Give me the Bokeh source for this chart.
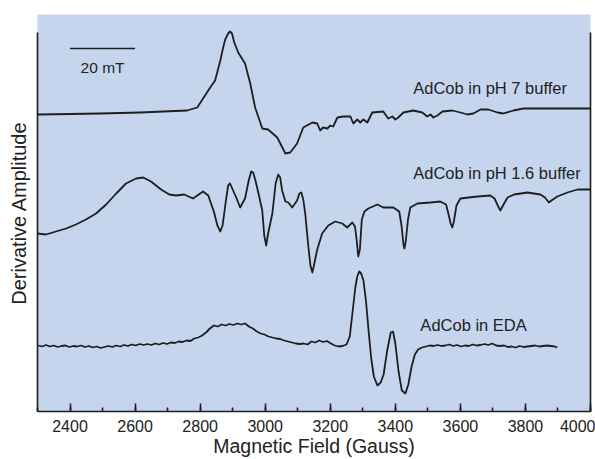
from bokeh.plotting import figure
from bokeh.models import LinearAxis, Range1d, SingleIntervalTicker, FixedTicker, Label
from bokeh.embed import file_html
from bokeh.resources import INLINE

# ---------------- data (field in Gauss, derivative amplitude in arbitrary units) ----------------
ph7_field = [2300, 2400, 2492, 2615, 2760, 2791, 2809, 2831, 2846, 2862, 2870, 2877, 2886, 2892,
             2898, 2905, 2917, 2938, 2954, 2969, 2991, 3009, 3037, 3062, 3077, 3098, 3117, 3145,
             3160, 3169, 3178, 3191, 3200, 3209, 3222, 3240, 3262, 3271, 3283, 3292, 3302, 3314,
             3329, 3363, 3378, 3391, 3400, 3409, 3425, 3455, 3483, 3498, 3508, 3517, 3529, 3545,
             3575, 3600, 3622, 3640, 3662, 3686, 3714, 3732, 3763, 3794, 3855, 3917, 4000]
ph7_amp = [-6, -5.5, -5, -4, -2, 1, 10, 21, 28, 48, 60, 69, 75, 77,
           75, 66, 56, 45, 25, 1, -20, -21, -29, -45, -44, -35, -19, -14,
           -15, -22, -19, -20, -17, -18, -9, -8, -8, -15, -11, -14, -11, -14,
           -4, -3, -10, -8, -11, -9, -4, -2, -4, -8, -6, -9, -7, -3,
           -2, -4, -6, -5, -1, -1, -4, -5, -2, 0, 0, 0, 0]

ph16_field = [2300, 2326, 2357, 2388, 2418, 2449, 2480, 2511, 2542, 2572, 2603, 2625, 2649, 2680,
              2705, 2726, 2751, 2778, 2809, 2825, 2843, 2853, 2862, 2869, 2878, 2886, 2892, 2900,
              2911, 2923, 2938, 2950, 2957, 2963, 2970, 2978, 2991, 2997, 3003, 3009, 3022, 3032,
              3040, 3046, 3052, 3062, 3071, 3083, 3098, 3105, 3111, 3117, 3123, 3132, 3139, 3145,
              3151, 3160, 3175, 3194, 3215, 3237, 3252, 3268, 3276, 3281, 3286, 3291, 3297, 3305,
              3317, 3345, 3363, 3394, 3412, 3419, 3425, 3428, 3432, 3439, 3446, 3468, 3508, 3538,
              3556, 3563, 3570, 3575, 3580, 3588, 3600, 3652, 3692, 3705, 3715, 3723, 3731, 3745,
              3765, 3806, 3846, 3860, 3872, 3880, 3898, 3929, 3960, 4000]
ph16_amp = [-44, -45, -42, -39, -35, -30, -24, -15, -4, 6, 11, 12, 8, 0,
            -5, -6, -5, -9, -2, -6, -23, -36, -42, -36, -14, 4, 6, 0,
            -8, -18, -9, 10, 18, 17, 9, -2, -21, -46, -56, -44, -24, 6,
            15, 12, -1, -12, -13, -18, -11, -4, -3, -10, -24, -55, -76, -83,
            -74, -60, -44, -36, -32, -34, -38, -33, -37, -50, -67, -60, -30, -22,
            -19, -15, -18, -18, -22, -36, -55, -59, -52, -30, -18, -14, -13, -12,
            -15, -24, -34, -38, -32, -16, -9, -7, -6, -9, -16, -21, -16, -8,
            -5, -3, -5, -8, -13, -11, -7, -3, 0, 0]

eda_field = [2302, 2314, 2326, 2338, 2350, 2362, 2374, 2386, 2398, 2410, 2422, 2434, 2446, 2458,
             2470, 2482, 2494, 2506, 2518, 2530, 2542, 2554, 2566, 2578, 2590, 2602, 2614, 2626,
             2638, 2650, 2662, 2674, 2686, 2698, 2710, 2722, 2734, 2746, 2758, 2770, 2782, 2794,
             2806, 2818, 2830, 2842, 2854, 2866, 2878, 2890, 2902, 2914, 2926, 2938, 2950, 2962,
             2974, 2986, 2998, 3010, 3022, 3034, 3046, 3058, 3070, 3082, 3094, 3106, 3118, 3130,
             3142, 3154, 3166, 3178, 3190, 3202, 3214, 3226, 3238, 3250, 3260, 3268, 3277, 3283,
             3289, 3295, 3302, 3310, 3318, 3326, 3334, 3345, 3355, 3364, 3375, 3386, 3393, 3400,
             3410, 3420, 3431, 3440, 3450, 3460, 3470, 3482, 3494, 3506, 3518, 3530, 3542, 3554,
             3566, 3578, 3590, 3602, 3614, 3626, 3638, 3650, 3662, 3674, 3686, 3698, 3710, 3722,
             3734, 3746, 3758, 3770, 3782, 3794, 3806, 3818, 3830, 3842, 3854, 3866, 3878, 3890,
             3898]
eda_amp = [1, 0, 1.5, 0, 1, -0.5, 0.5, 1, -0.5, 0.5, 0, 1, -0.5, 0.5,
           -1, 0, -1.5, -0.5, 0.5, -0.5, 1, 0, 1.5, 0.5, 2, 1, 2.5, 1.5,
           2.5, 1.5, 3, 2, 3.5, 2.5, 4, 3.5, 5, 4.5, 6, 5.5, 8, 9,
           11, 14, 18, 21, 20, 22, 21, 22.5, 21.5, 23, 22, 23, 20, 18,
           15, 13, 12, 10, 9, 8, 7.5, 6, 5, 4, 3, 2.5, 3, 2,
           5, 4, 6, 4.5, 5.5, 3, 1, 0, 0.5, 2, 10, 33, 59, 70,
           75, 73, 66, 45, 15, -12, -30, -39, -36, -28, -4, 14, 15, 3,
           -25, -44, -47, -38, -20, -8, -3, -1, 0, 1, 0.5, 1.5, 0.5, 1,
           2, 0.5, 1.5, 0, 1, 0.5, 2, 1, 1.5, 2.5, 1.5, 3, 1, 0.5,
           1, -0.5, 0, -1, 0.5, -0.5, 0, 0.5, 1, 0, 0.5, 1, 0.5, 0,
           -1]

labels = ["AdCob in pH 7 buffer", "AdCob in pH 1.6 buffer", "AdCob in EDA"]
x_ticks_interval = 200
x_start, x_end = 2300, 4000

# ---------------- layout / style ----------------
BG = "#c6d5ee"
INK = "#1e1e1e"
TXT = "#222222"
FONT = "Liberation Sans"
offsets = [303, 222, 65]          # vertical stacking of the three spectra
label_pos = [(3455, 324), (3455, 239), (3477, 87)]

p = figure(width=595, height=459, x_range=Range1d(x_start, x_end), y_range=Range1d(0, 397),
           output_backend="svg", toolbar_location=None,
           min_border_left=37, min_border_right=5, min_border_top=14, min_border_bottom=48,
           background_fill_color=BG, border_fill_color="white", outline_line_color=None)
p.grid.visible = False

series = [(ph7_field, ph7_amp), (ph16_field, ph16_amp), (eda_field, eda_amp)]
for (fx, fa), off in zip(series, offsets):
    p.line(fx, [off + a for a in fa], line_color=INK, line_width=1.8, line_join="round")

for txt, (lx, ly) in zip(labels, label_pos):
    p.add_layout(Label(x=lx, y=ly, text=txt, text_font=FONT, text_font_size="16.5px",
                       text_color=TXT, text_baseline="alphabetic", text_align="left"))

# 20 mT (= 200 G) scale bar
bar_start, bar_len = 2400, 200
p.segment(x0=[bar_start], y0=[363], x1=[bar_start + bar_len], y1=[363], line_color=INK, line_width=1.6)
p.add_layout(Label(x=bar_start + bar_len / 2, y=344, text="20 mT", text_font=FONT, text_font_size="15.5px",
                   text_color=TXT, text_baseline="alphabetic", text_align="center"))

# bottom axis
xa = p.xaxis[0]
xa.ticker = SingleIntervalTicker(interval=x_ticks_interval, num_minor_ticks=2)
xa.axis_label = "Magnetic Field (Gauss)"
xa.axis_label_text_font = FONT
xa.axis_label_text_font_size = "19.5px"
xa.axis_label_text_font_style = "normal"
xa.axis_label_text_color = TXT
xa.axis_label_standoff = 0
xa.major_label_text_font = FONT
xa.major_label_text_font_size = "16px"
xa.major_label_text_color = TXT
xa.major_label_standoff = 8
xa.major_tick_in = 8
xa.major_tick_out = 0
xa.minor_tick_in = 4
xa.minor_tick_out = 0
xa.axis_line_color = INK
xa.axis_line_width = 1.6
xa.major_tick_line_color = INK
xa.major_tick_line_width = 1.6
xa.minor_tick_line_color = INK
xa.minor_tick_line_width = 1.6

# left axis (no ticks)
ya = p.yaxis[0]
ya.ticker = FixedTicker(ticks=[])
ya.bounds = (0, 379)
ya.axis_label = "Derivative Amplitude"
ya.axis_label_text_font = FONT
ya.axis_label_text_font_size = "20px"
ya.axis_label_text_font_style = "normal"
ya.axis_label_text_color = TXT
ya.axis_label_standoff = 8
ya.major_label_standoff = 0
ya.major_tick_out = 0
ya.major_tick_in = 0
ya.minor_tick_out = 0
ya.axis_line_color = INK
ya.axis_line_width = 1.6

# right axis (no ticks)
ra = LinearAxis(ticker=FixedTicker(ticks=[]), bounds=(0, 379), major_label_standoff=0,
                axis_label_standoff=0, major_tick_out=0, major_tick_in=0, minor_tick_out=0,
                axis_line_color=INK, axis_line_width=1.6)
p.add_layout(ra, "right")

open("out.html", "w").write(file_html(p, INLINE))
